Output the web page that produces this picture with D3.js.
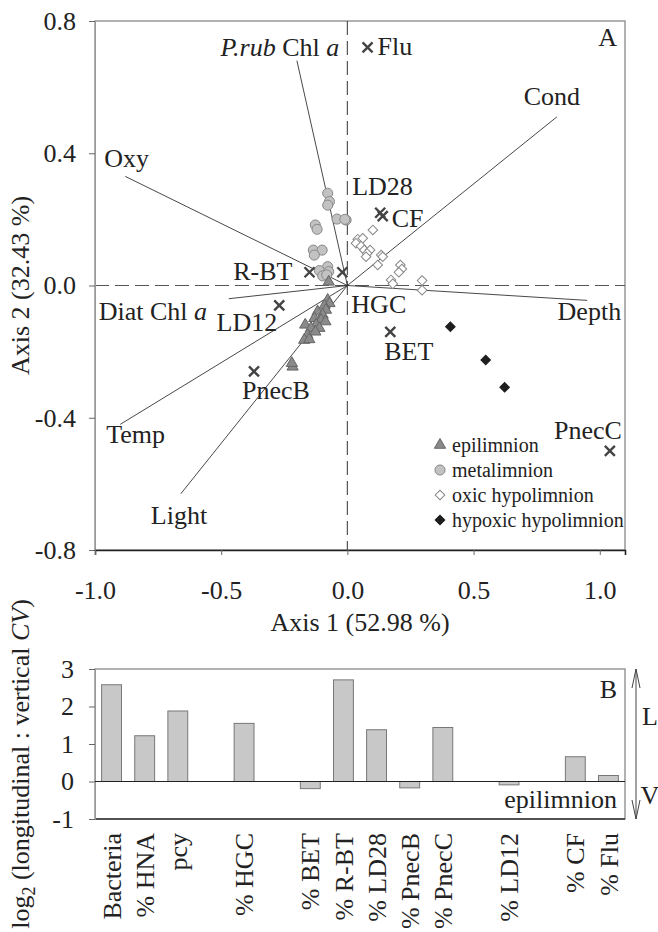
<!DOCTYPE html>
<html>
<head>
<meta charset="utf-8">
<script src="https://cdn.jsdelivr.net/npm/d3@7"></script>
<style>
	body { margin: 0; background: #fff; }
	svg text { font-family: 'Liberation Serif', 'Times New Roman', serif; fill: #222; }
</style>
</head>
<body>
<svg id="canvas"></svg>
<script>
const width = 658;
const height = 932;

// panel A - environmental vectors (arrow tips)
const vectorNames = ['P.rub Chl a', 'Oxy', 'Cond', 'Diat Chl a', 'Temp', 'Light', 'Depth'];
const vectorX = [-0.2, -0.88, 0.83, -0.47, -0.9, -0.66, 0.95];
const vectorY = [0.68, 0.33, 0.51, -0.04, -0.42, -0.63, -0.045];

// panel A - taxa
const taxaNames = ['Flu', 'LD28', 'CF', 'R-BT', 'HGC', 'LD12', 'BET', 'PnecB', 'PnecC'];
const taxaX = [0.08, 0.13, 0.14, -0.15, -0.02, -0.27, 0.17, -0.37, 1.04];
const taxaY = [0.72, 0.22, 0.21, 0.04, 0.04, -0.06, -0.14, -0.26, -0.5];

// panel A - samples by layer
const epiX = [-0.074, -0.078, -0.071, -0.091, -0.085, -0.118, -0.098, -0.131, -0.104, -0.087, -0.167, -0.124, -0.144, -0.111, -0.127, -0.158, -0.171, -0.151, -0.217, -0.22];
const epiY = [0.011, -0.044, -0.054, -0.061, -0.074, -0.079, -0.089, -0.099, -0.104, -0.109, -0.119, -0.119, -0.129, -0.129, -0.14, -0.15, -0.165, -0.163, -0.246, -0.235];
const metaX = [-0.078, -0.071, -0.078, -0.041, -0.005, -0.127, -0.12, -0.135, -0.1, -0.131, -0.078, -0.111, -0.074, -0.098, -0.082, -0.01];
const metaY = [0.279, 0.254, 0.243, 0.201, 0.198, 0.183, 0.17, 0.107, 0.107, 0.092, 0.057, 0.045, 0.042, 0.029, 0.032, 0.2];
const oxicX = [0.101, 0.041, 0.061, 0.034, 0.054, 0.067, 0.09, 0.078, 0.134, 0.14, 0.074, 0.12, 0.21, 0.216, 0.204, 0.173, 0.18, 0.296, 0.296];
const oxicY = [0.168, 0.14, 0.143, 0.128, 0.119, 0.107, 0.107, 0.097, 0.092, 0.087, 0.087, 0.062, 0.062, 0.05, 0.04, 0.017, 0.005, 0.015, -0.014];
const hypoxX = [0.408, 0.548, 0.623];
const hypoxY = [-0.125, -0.225, -0.308];

const layerNames = ['epilimnion', 'metalimnion', 'oxic hypolimnion', 'hypoxic hypolimnion'];

// panel B
const barCategories = ['Bacteria', '% HNA', 'pcy', '', '% HGC', '', '% BET', '% R-BT', '% LD28', '% PnecB', '% PnecC', '', '% LD12', '', '% CF', '% Flu'];
const barValues = [2.58, 1.22, 1.88, null, 1.55, null, -0.19, 2.71, 1.38, -0.17, 1.44, null, -0.09, null, 0.66, 0.16];

const canvas = d3.select('#canvas').attr('width', width).attr('height', height);

const fontSize = 26;

// ---------- panel A ----------
const x = d3.scaleLinear().domain([-1, 1.1]).range([95, 625]);
const y = d3.scaleLinear().domain([-0.8, 0.8]).range([550, 21]);

const panelA = canvas.append('g');

// box
panelA.append('rect')
	.attr('x', x(-1)).attr('y', y(0.8))
	.attr('width', x(1.1) - x(-1)).attr('height', y(-0.8) - y(0.8))
	.attr('fill', 'none').attr('stroke', '#888').attr('stroke-width', 1.3);

// zero lines
panelA.append('line')
	.attr('x1', x(0)).attr('x2', x(0)).attr('y1', y(0.8)).attr('y2', y(-0.8))
	.attr('stroke', '#555').attr('stroke-width', 1.2).attr('stroke-dasharray', '14,6');
panelA.append('line')
	.attr('x1', x(-1)).attr('x2', x(1.1)).attr('y1', y(0)).attr('y2', y(0))
	.attr('stroke', '#555').attr('stroke-width', 1.2).attr('stroke-dasharray', '14,6');

// axes
const yAxisA = panelA.append('g')
	.attr('transform', `translate(${x(-1)},0)`)
	.call(d3.axisLeft(y).tickValues([-0.8, -0.4, 0, 0.4, 0.8]).tickFormat((d) => d.toFixed(1)).tickSize(6).tickPadding(13));
yAxisA.select('.domain').attr('stroke', '#999');
yAxisA.selectAll('.tick line').attr('stroke', '#666');
yAxisA.selectAll('text').attr('font-size', fontSize).attr('font-family', null);

const xAxisA = panelA.append('g')
	.attr('transform', `translate(0,${y(-0.8)})`)
	.call(d3.axisBottom(x).tickValues([-1, -0.5, 0, 0.5, 1]).tickFormat((d) => d.toFixed(1)).tickSizeOuter(0).tickSize(5));
xAxisA.select('.domain').attr('stroke', '#222').attr('stroke-width', 1.6);
xAxisA.selectAll('.tick line').attr('stroke', '#666');
xAxisA.selectAll('text').attr('font-size', fontSize).attr('font-family', null).attr('y', 49).attr('dy', 0);

panelA.append('text')
	.attr('x', 360).attr('y', 631)
	.attr('text-anchor', 'middle').attr('font-size', fontSize)
	.text('Axis 1 (52.98 %)');

panelA.append('text')
	.attr('transform', `translate(29,${y(0)}) rotate(-90)`)
	.attr('text-anchor', 'middle').attr('font-size', fontSize)
	.text('Axis 2 (32.43 %)');

panelA.append('text')
	.attr('x', 617).attr('y', 46)
	.attr('text-anchor', 'end').attr('font-size', fontSize)
	.text('A');

// vectors
const vectors = vectorNames.map((name, i) => ({ name, vx: vectorX[i], vy: vectorY[i] }));
panelA.selectAll('.vector')
	.data(vectors)
	.enter()
	.append('line')
	.attr('class', 'vector')
	.attr('x1', x(0)).attr('y1', y(0))
	.attr('x2', (d) => x(d.vx)).attr('y2', (d) => y(d.vy))
	.attr('stroke', '#333').attr('stroke-width', 0.9);

const vectorLabelPos = {
	'P.rub Chl a': [-17, -5, 'middle'],
	'Oxy': [-21, -9, 'start'],
	'Cond': [-5, -12, 'middle'],
	'Diat Chl a': [-130, 21, 'start'],
	'Temp': [-14, 19, 'start'],
	'Light': [-30, 30, 'start'],
	'Depth': [34, 20, 'end']
};

vectors.forEach((d) => {
	const p = vectorLabelPos[d.name];
	const t = panelA.append('text')
		.attr('x', x(d.vx) + p[0]).attr('y', y(d.vy) + p[1])
		.attr('text-anchor', p[2]).attr('font-size', fontSize);
	if (d.name === 'P.rub Chl a') {
		t.append('tspan').attr('font-style', 'italic').text('P.rub');
		t.append('tspan').text(' Chl ');
		t.append('tspan').attr('font-style', 'italic').text('a');
	} else if (d.name === 'Diat Chl a') {
		t.append('tspan').text('Diat Chl ');
		t.append('tspan').attr('font-style', 'italic').text('a');
	} else {
		t.text(d.name);
	}
});

// samples
const symbolFor = {
	'epilimnion': { type: d3.symbolTriangle, size: 55, fill: '#8a8a8a', stroke: '#666', rotate: 0 },
	'metalimnion': { type: d3.symbolCircle, size: 80, fill: '#c2c2c2', stroke: '#888', rotate: 0 },
	'oxic hypolimnion': { type: d3.symbolSquare, size: 46, fill: '#fff', stroke: '#888', rotate: 45 },
	'hypoxic hypolimnion': { type: d3.symbolSquare, size: 46, fill: '#1e1e1e', stroke: '#1e1e1e', rotate: 45 }
};

const layers = [
	{ name: 'metalimnion', xs: metaX, ys: metaY },
	{ name: 'oxic hypolimnion', xs: oxicX, ys: oxicY },
	{ name: 'epilimnion', xs: epiX, ys: epiY },
	{ name: 'hypoxic hypolimnion', xs: hypoxX, ys: hypoxY }
];

layers.forEach((layer) => {
	const s = symbolFor[layer.name];
	panelA.append('g')
		.selectAll('path')
		.data(layer.xs.map((v, i) => [v, layer.ys[i]]))
		.enter()
		.append('path')
		.attr('d', d3.symbol().type(s.type).size(s.size))
		.attr('transform', (d) => `translate(${x(d[0])},${y(d[1])}) rotate(${s.rotate})`)
		.attr('fill', s.fill)
		.attr('stroke', s.stroke)
		.attr('stroke-width', 1);
});

// taxa crosses
const taxa = taxaNames.map((name, i) => ({ name, tx: taxaX[i], ty: taxaY[i] }));
const cross = 'M-5,-5L5,5M-5,5L5,-5';
panelA.selectAll('.taxon')
	.data(taxa)
	.enter()
	.append('path')
	.attr('class', 'taxon')
	.attr('d', cross)
	.attr('transform', (d) => `translate(${x(d.tx)},${y(d.ty)})`)
	.attr('stroke', '#444').attr('stroke-width', 2.4).attr('fill', 'none');

const taxaLabelPos = {
	'Flu': [10, 8, 'start'],
	'LD28': [-28, -18, 'start'],
	'CF': [9, 11, 'start'],
	'R-BT': [-17, 8, 'end'],
	'HGC': [9, 41, 'start'],
	'LD12': [-2, 26, 'end'],
	'BET': [-6, 28, 'start'],
	'PnecB': [-12, 28, 'start'],
	'PnecC': [12, -12, 'end']
};

panelA.selectAll('.taxon-label')
	.data(taxa)
	.enter()
	.append('text')
	.attr('class', 'taxon-label')
	.attr('x', (d) => x(d.tx) + taxaLabelPos[d.name][0])
	.attr('y', (d) => y(d.ty) + taxaLabelPos[d.name][1])
	.attr('text-anchor', (d) => taxaLabelPos[d.name][2])
	.attr('font-size', fontSize)
	.text((d) => d.name);

// legend
const legend = panelA.append('g').attr('transform', 'translate(440,445)');
layerNames.forEach((name, i) => {
	const s = symbolFor[name];
	legend.append('path')
		.attr('d', d3.symbol().type(s.type).size(s.size))
		.attr('transform', `translate(0,${i * 25}) rotate(${s.rotate})`)
		.attr('fill', s.fill).attr('stroke', s.stroke);
	legend.append('text')
		.attr('x', 12).attr('y', i * 25 + 7)
		.attr('font-size', 20)
		.text(name);
});

// ---------- panel B ----------
const xb = d3.scaleBand().domain(d3.range(barCategories.length)).range([95, 625]).paddingInner(0.4).paddingOuter(0.2);
const yb = d3.scaleLinear().domain([-1, 3]).range([819, 669]);

const panelB = canvas.append('g');

panelB.append('rect')
	.attr('x', 95).attr('y', yb(3))
	.attr('width', 530).attr('height', yb(-1) - yb(3))
	.attr('fill', 'none').attr('stroke', '#888').attr('stroke-width', 1.3);
panelB.append('line')
	.attr('x1', 95).attr('x2', 625).attr('y1', yb(-1)).attr('y2', yb(-1))
	.attr('stroke', '#333').attr('stroke-width', 1.4);

const yAxisB = panelB.append('g')
	.attr('transform', 'translate(95,0)')
	.call(d3.axisLeft(yb).tickValues([-1, 0, 1, 2, 3]).tickFormat((d) => d).tickSize(6).tickPadding(15));
yAxisB.select('.domain').attr('stroke', '#999');
yAxisB.selectAll('.tick line').attr('stroke', '#666');
yAxisB.selectAll('text').attr('font-size', fontSize).attr('font-family', null);

const bars = barCategories
	.map((name, i) => ({ i, name, value: barValues[i] }))
	.filter((d) => d.value !== null);

panelB.selectAll('.bar')
	.data(bars)
	.enter()
	.append('rect')
	.attr('class', 'bar')
	.attr('x', (d) => xb(d.i))
	.attr('width', xb.bandwidth())
	.attr('y', (d) => yb(Math.max(0, d.value)))
	.attr('height', (d) => Math.abs(yb(d.value) - yb(0)))
	.attr('fill', '#c8c8c8')
	.attr('stroke', '#777')
	.attr('stroke-width', 1);

panelB.append('line')
	.attr('x1', 95).attr('x2', 625).attr('y1', yb(0)).attr('y2', yb(0))
	.attr('stroke', '#222').attr('stroke-width', 1.2);

panelB.selectAll('.cat')
	.data(bars)
	.enter()
	.append('text')
	.attr('class', 'cat')
	.attr('transform', (d) => `translate(${xb(d.i) + xb.bandwidth() / 2},833) rotate(-90)`)
	.attr('dy', '0.35em')
	.attr('text-anchor', 'end')
	.attr('font-size', fontSize)
	.text((d) => d.name);

panelB.append('text')
	.attr('x', 617).attr('y', 698)
	.attr('text-anchor', 'end').attr('font-size', fontSize)
	.text('B');

panelB.append('text')
	.attr('x', 617).attr('y', 808)
	.attr('text-anchor', 'end').attr('font-size', fontSize)
	.text('epilimnion');

const ylab = panelB.append('text')
	.attr('transform', 'translate(29,764) rotate(-90)')
	.attr('text-anchor', 'middle').attr('font-size', fontSize);
ylab.append('tspan').text('log');
ylab.append('tspan').attr('font-size', 18).attr('dy', 6).text('2');
ylab.append('tspan').attr('dy', -6).text(' (longitudinal : vertical ');
ylab.append('tspan').attr('font-style', 'italic').text('CV');
ylab.append('tspan').text(')');

// L / V arrows
const arrowX = 636;
panelB.append('line')
	.attr('x1', arrowX).attr('x2', arrowX).attr('y1', yb(3)).attr('y2', yb(-1))
	.attr('stroke', '#444').attr('stroke-width', 1);
panelB.append('path')
	.attr('d', `M${arrowX - 4},${yb(3) + 19}L${arrowX},${yb(3)}L${arrowX + 4},${yb(3) + 19}`)
	.attr('fill', 'none').attr('stroke', '#444').attr('stroke-width', 1);
panelB.append('path')
	.attr('d', `M${arrowX - 4},${yb(-1) - 19}L${arrowX},${yb(-1)}L${arrowX + 4},${yb(-1) - 19}`)
	.attr('fill', 'none').attr('stroke', '#444').attr('stroke-width', 1);
panelB.append('text')
	.attr('x', 650).attr('y', 725)
	.attr('text-anchor', 'middle').attr('font-size', fontSize)
	.text('L');
panelB.append('text')
	.attr('x', 650).attr('y', 804)
	.attr('text-anchor', 'middle').attr('font-size', fontSize)
	.text('V');
</script>
</body>
</html>
